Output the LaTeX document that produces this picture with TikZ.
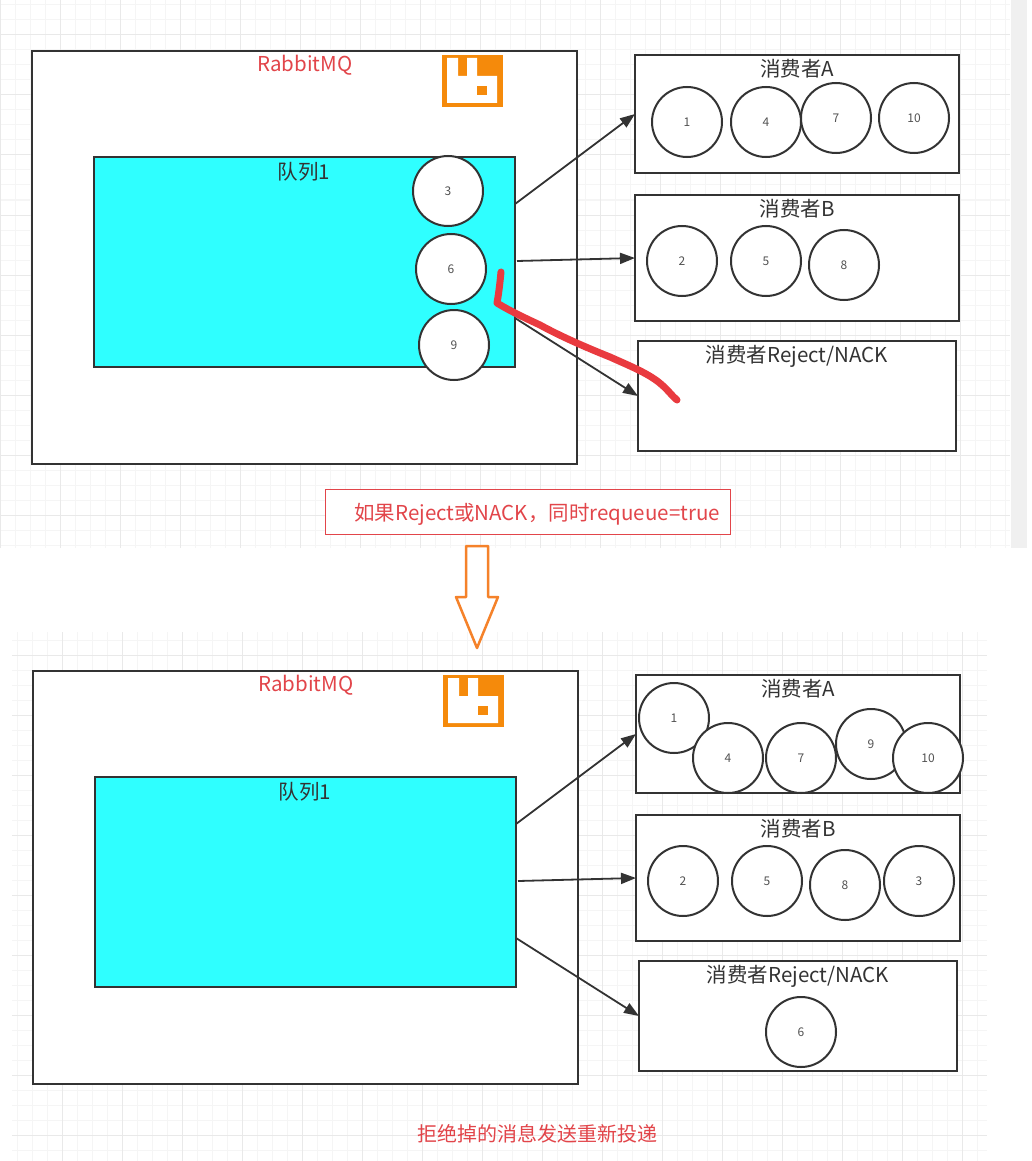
\documentclass[tikz,border=0pt]{standalone}
\usepackage{fontspec}
\setmainfont{Noto Sans CJK SC}
\definecolor{ink}{HTML}{333333}
\definecolor{redtxt}{HTML}{E2454A}
\definecolor{scribble}{HTML}{E93A3F}
\definecolor{qcyan}{HTML}{2FFFFF}
\definecolor{logoor}{HTML}{F58A0B}
\definecolor{arrowor}{HTML}{F5822A}
\definecolor{gridminor}{HTML}{F5F5F5}
\definecolor{gridmajor}{HTML}{E9E9E9}
\usetikzlibrary{arrows.meta}
\tikzset{
  boxn/.style={draw=ink,line width=2pt,fill=white,rectangle,inner sep=0pt,outer sep=0pt,minimum width=#1},
  queuebox/.style={draw=ink,line width=2pt,fill=qcyan,inner sep=0pt,outer sep=0pt,minimum width=421pt,minimum height=210pt,anchor=north west},
  titlelbl/.style={text=ink,font=\fontsize{20.5}{22}\selectfont,inner sep=0pt},
  redlbl/.style={text=redtxt,font=\fontsize{20.5}{22}\selectfont,inner sep=0pt},
  msg/.style={circle,draw=ink,line width=2pt,fill=white,minimum size=70pt,inner sep=0pt,text=ink!85,font=\fontsize{12}{14}\selectfont},
  link/.style={draw=ink,line width=1.8pt,-{Triangle[length=15pt,width=11pt]}},
  minorl/.style={draw=gridminor,line width=1pt},
  majorl/.style={draw=gridmajor,line width=1pt}
}
\newcommand{\mkbox}[5]{\node[boxn=#4pt,minimum height=#5pt,anchor=north west] (#1) at (#2,#3) {};}
\newcommand{\mklogo}[2]{%
  \begin{scope}[shift={(#1,#2)}]
    \fill[logoor] (442,55) rectangle (503,107);
    \fill[white] (447,58) -- (458,58) -- (458,76) -- (467,76) -- (467,58) -- (477,58) -- (477,76) -- (497,76) -- (497,103) -- (447,103) -- cycle;
    \fill[logoor] (477,86) rectangle (487,95);
  \end{scope}}
\begin{document}
\begin{tikzpicture}[x=1pt,y=-1pt]
\useasboundingbox (0,0) rectangle (1032,1161);
\fill[white] (0,0) rectangle (1032,1161);
% grid, top panel
\foreach \x in {0,15,...,1005} \draw[minorl] (\x,0) -- (\x,548);
\foreach \y in {5,20,...,545} \draw[minorl] (0,\y) -- (1010,\y);
\foreach \x in {0,60,...,1000} \draw[majorl] (\x,0) -- (\x,548);
\foreach \y in {35,95,...,545} \draw[majorl] (0,\y) -- (1010,\y);
\fill[black!6] (1011,0) rectangle (1027,548);
% grid, lower panel
\foreach \x in {17,32,...,985} \draw[minorl] (\x,632) -- (\x,1161);
\foreach \y in {640,655,...,1160} \draw[minorl] (12,\y) -- (987,\y);
\foreach \x in {62,122,...,985} \draw[majorl] (\x,632) -- (\x,1161);
\foreach \y in {655,715,...,1160} \draw[majorl] (12,\y) -- (987,\y);

% top diagram
\mkbox{mqa}{32}{51}{545}{413}
\node[redlbl] (mqalbl) at (305,65) {RabbitMQ};
\mklogo{0}{0}
\node[queuebox] (qa) at (94,157) {};
\node[titlelbl] (qalbl) at (304,172) {队列1};
\mkbox{caa}{635}{55}{324}{118}
\node[titlelbl] (caalbl) at (797,69) {消费者A};
\mkbox{cba}{635}{195}{324}{126}
\node[titlelbl] (cbalbl) at (797,209) {消费者B};
\mkbox{cra}{638}{341}{318}{110}
\node[titlelbl] (cralbl) at (797,356) {消费者Reject/NACK};
\node[msg] (a3) at (448,191) {3};
\node[msg] (a6) at (451,269) {6};
\node[msg] (a9) at (454,345) {9};
\node[msg] (a1) at (687,122) {1};
\node[msg] (a4) at (766,122) {4};
\node[msg] (a7) at (836,118) {7};
\node[msg] (a10) at (914,118) {10};
\node[msg] (a2) at (682,261) {2};
\node[msg] (a5) at (766,261) {5};
\node[msg] (a8) at (844,265) {8};
\coordinate (qa1) at (515,204);
\coordinate (qa2) at (517,261);
\coordinate (qa3) at (515,318);
\draw[link] (qa1) -- (caa.west);
\draw[link] (qa2) -- (cba.west);
\draw[link] (qa3) -- (cra.west);
\draw[scribble,line width=7pt,line cap=round,line join=round] (501,272) .. controls (500,282) and (499,292) .. (497,303) .. controls (510,311) and (525,318) .. (540,325) .. controls (560,336) and (585,347) .. (610,357) .. controls (630,366) and (650,374) .. (662,385) .. controls (668,390) and (672,396) .. (677,400);

% caption and arrow
\node[draw=redtxt,line width=1pt,fill=white,outer sep=0pt,minimum width=405pt,minimum height=45pt,anchor=north west,inner sep=0pt] (note) at (325,489) {};
\node[redlbl,anchor=west] (notelbl) at (354,514) {如果Reject或NACK，同时requeue=true};
\draw[arrowor,line width=2.5pt,line join=round,fill=white] (466,546) -- (488,546) -- (488,597) -- (498,597) -- (477,648) -- (456,597) -- (466,597) -- cycle;

% lower diagram
\mkbox{mqb}{33}{671}{545}{413}
\node[redlbl] (mqblbl) at (306,685) {RabbitMQ};
\mklogo{1}{620}
\node[queuebox] (qb) at (95,777) {};
\node[titlelbl] (qblbl) at (305,792) {队列1};
\mkbox{cab}{636}{675}{324}{118}
\node[titlelbl] (cablbl) at (798,689) {消费者A};
\mkbox{cbb}{636}{815}{324}{126}
\node[titlelbl] (cbblbl) at (798,829) {消费者B};
\mkbox{crb}{639}{961}{318}{110}
\node[titlelbl] (crblbl) at (798,976) {消费者Reject/NACK};
\node[msg] (b1) at (674,718) {1};
\node[msg] (b4) at (728,758) {4};
\node[msg] (b7) at (801,758) {7};
\node[msg] (b9) at (871,744) {9};
\node[msg] (b10) at (928,758) {10};
\node[msg] (b2) at (683,881) {2};
\node[msg] (b5) at (767,881) {5};
\node[msg] (b8) at (845,885) {8};
\node[msg] (b3) at (919,881) {3};
\node[msg] (b6) at (801,1032) {6};
\coordinate (qb1) at (516,824);
\coordinate (qb2) at (518,881);
\coordinate (qb3) at (516,938);
\draw[link] (qb1) -- (cab.west);
\draw[link] (qb2) -- (cbb.west);
\draw[link] (qb3) -- (crb.west);
\node[redlbl,font=\fontsize{20}{22}\selectfont] (endlbl) at (537,1134) {拒绝掉的消息发送重新投递};
\end{tikzpicture}
\end{document}
